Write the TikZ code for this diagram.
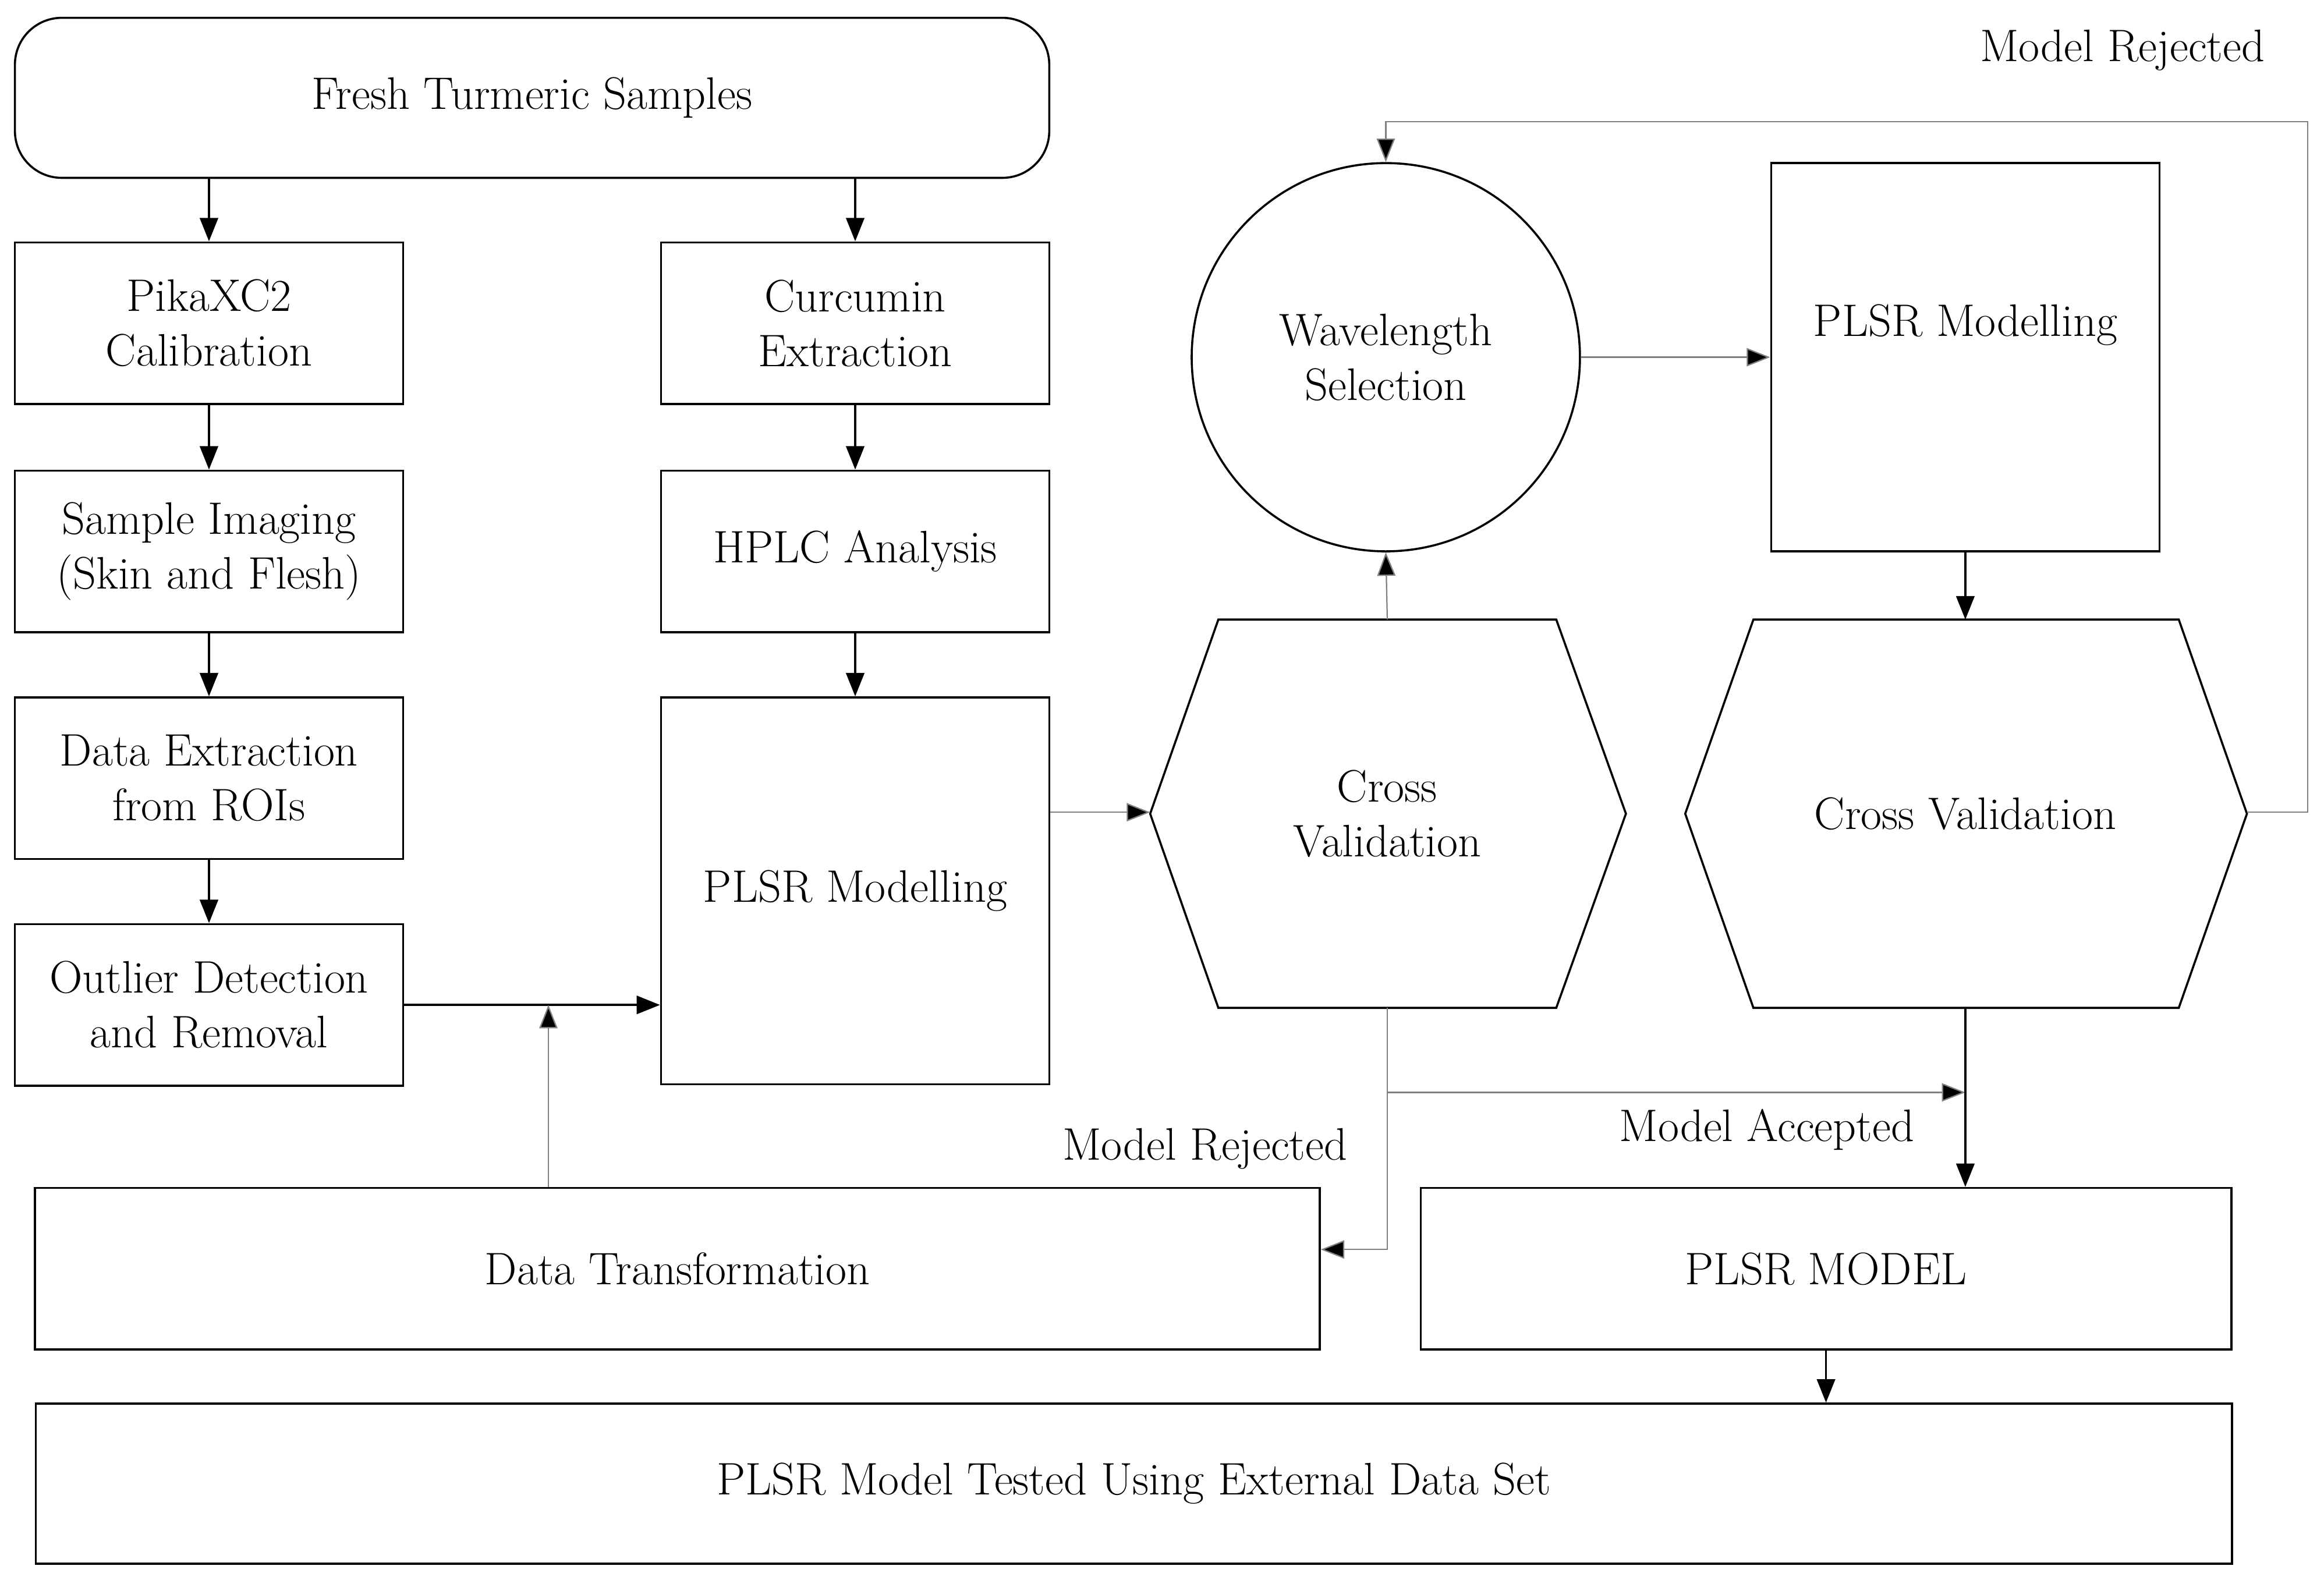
\documentclass[tikz,border=0pt]{standalone}
\usetikzlibrary{arrows.meta}
\begin{document}
\begin{tikzpicture}[x=0.02cm,y=-0.02cm,
  box/.style={draw,line width=0.8pt,align=center,inner sep=0pt,font=\fontsize{17.5}{21}\selectfont},
  lbl/.style={font=\fontsize{17.5}{21}\selectfont},
  arr/.style={line width=0.8pt,-{Triangle[length=9pt,width=7pt]}},
  garr/.style={line width=0.5pt,draw=gray,-{Triangle[length=9pt,width=7pt,fill=black]}}]
\useasboundingbox (0,0) rectangle (1568,1066);
\node[box,rounded corners=18pt,minimum width=13.96cm,minimum height=2.16cm] (fresh) at (359,66) {Fresh Turmeric Samples};
\tikzset{sb/.style={box,minimum width=5.24cm,minimum height=2.18cm}}
\node[sb] (pika) at (141,218) {PikaXC2\\Calibration};
\node[sb] (img) at (141,372) {Sample Imaging\\(Skin and Flesh)};
\node[sb] (dex) at (141,525) {Data Extraction\\from ROIs};
\node[sb] (out) at (141,678) {Outlier Detection\\and Removal};
\node[sb] (cur) at (577,218) {Curcumin\\Extraction};
\node[sb] (hplc) at (577,372) {HPLC Analysis};
\node[box,minimum width=5.24cm,minimum height=5.22cm] (plsl) at (577,601) {PLSR Modelling};
\node[box,circle,minimum size=5.24cm] (wave) at (935,241) {Wavelength\\Selection};
\node[box,minimum width=5.24cm,minimum height=5.24cm] (plsr) at (1326,241) {\raisebox{1.0cm}{PLSR Modelling}};
\draw[line width=0.8pt] (776,549) -- (822,418) -- (1050,418) -- (1097,549) -- (1050,680) -- (822,680) -- cycle;
\node[lbl,align=center] (cv1) at (936,549) {Cross\\Validation};
\draw[line width=0.8pt] (1137,549) -- (1183,418) -- (1470,418) -- (1516,549) -- (1470,680) -- (1183,680) -- cycle;
\node[lbl] (cv2) at (1326,549) {Cross Validation};
\node[box,minimum width=17.34cm,minimum height=2.18cm] (dt) at (457,856) {Data Transformation};
\node[box,minimum width=10.94cm,minimum height=2.18cm] (pm) at (1232,856) {PLSR MODEL};
\node[box,minimum width=29.64cm,minimum height=2.16cm] (test) at (765,1001) {PLSR Model Tested Using External Data Set};
\coordinate (h1t) at (936,418); \coordinate (h1b) at (936,680); \coordinate (h1l) at (776,548);
\coordinate (h2t) at (1326,418); \coordinate (h2b) at (1326,680); \coordinate (h2r) at (1516,548);
\coordinate (j) at (370,678); \coordinate (br) at (936,737);
\node[lbl] at (1432,34) {Model Rejected};
\node[lbl] at (813,775) {Model Rejected};
\node[lbl] at (1192,762) {Model Accepted};
\draw[arr] (fresh.south -| pika) -- (pika);
\draw[arr] (fresh.south -| cur) -- (cur);
\draw[arr] (pika) -- (img); \draw[arr] (img) -- (dex); \draw[arr] (dex) -- (out);
\draw[arr] (cur) -- (hplc); \draw[arr] (hplc) -- (plsl);
\draw[arr] (out.east) -- (out.east -| plsl.west);
\draw[garr] (dt.north -| j) -- (j);
\draw[garr] (plsl.east |- h1l) -- (h1l);
\draw[garr] (h1t) -- (wave.south);
\draw[garr] (wave.east) -- (plsr.west |- wave.east);
\draw[arr] (plsr.south) -- (h2t);
\draw[garr] (h2r) -- (1557,548) -- (1557,82) -- (wave.north |- 0,82) -- (wave.north);
\draw[garr] (h1b) -- (936,843) -- (dt.east |- 0,843);
\draw[garr] (br) -- (br -| h2b);
\draw[arr] (h2b) -- (h2b |- pm.north);
\draw[arr] (pm.south) -- (test.north -| pm.south);
\end{tikzpicture}
\end{document}
